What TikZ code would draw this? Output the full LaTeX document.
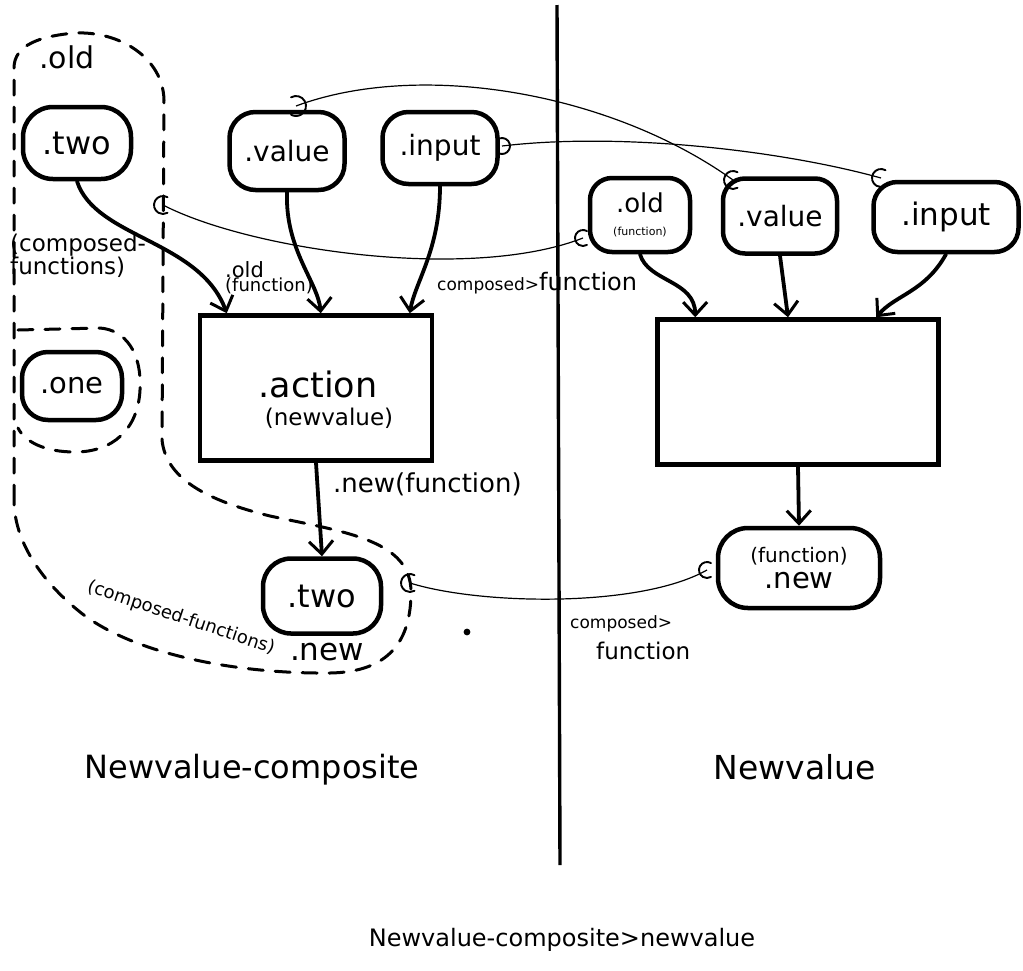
\documentclass[tikz,border=0pt]{standalone}
\usepackage{fontspec}
\setmainfont{DejaVu Sans}
\usetikzlibrary{arrows.meta}
\newcommand{\fs}[1]{\fontsize{#1}{#1}\selectfont}
\begin{document}
\begin{tikzpicture}[x=1pt,y=-1pt,
  blob/.style={draw, line width=4.5pt, rounded corners=26pt, inner sep=0pt, align=center, font=\fs{28}},
  box/.style={draw, line width=4.5pt, inner sep=0pt, align=center},
  flow/.style={line width=3.8pt, line cap=round, -{Straight Barb[length=13pt,width=24pt,line width=3pt]}},
  link/.style={line width=1.2pt},
  hookmark/.style={line width=1.9pt, line cap=round},
  region/.style={line width=3pt, dash pattern=on 15pt off 12pt, line cap=round},
  lbl/.style={inner sep=0pt, align=left}
]
\useasboundingbox (0,0) rectangle (1023,970);

% divider between the two diagrams
\draw[line width=3.4pt] (557,5) coordinate (dtop) -- (560,865) coordinate (dbot);

% ---------- left: Newvalue-composite ----------
\node[blob, minimum width=108pt, minimum height=72pt, font=\fs{32}, rounded corners=30pt] (twoA) at (77,143) {.two};
\node[blob, minimum width=115pt, minimum height=78pt] (valueA) at (287,151) {.value};
\node[blob, minimum width=115pt, minimum height=72pt] (inputA) at (440,148) {.input};
\node[blob, minimum width=100pt, minimum height=68pt, font=\fs{29}] (oneA) at (72,386) {.one};
\node[box, minimum width=232pt, minimum height=145pt] (action) at (316,388) {};
\node[lbl, font=\fs{35}] (actname) at (318,384) {.action};
\node[lbl, font=\fs{23}] (acttype) at (329,418) {(newvalue)};
\node[blob, minimum width=118pt, minimum height=75pt, rounded corners=28pt, font=\fs{32}] (twoB) at (322,596) {.two};

% dashed groupings
\draw[region] (14,500) -- (14,68) .. controls (14,45) and (40,36) .. (75,33)
  .. controls (120,31) and (163,58) .. (164,100) -- (162,440)
  .. controls (166,478) and (205,500) .. (270,516)
  .. controls (345,532) and (411,540) .. (411,592)
  .. controls (411,640) and (390,672) .. (330,673)
  .. controls (230,674) and (130,652) .. (80,612)
  .. controls (40,580) and (14,540) .. cycle;
\draw[region] (18,330) -- (100,328) .. controls (125,330) and (142,352) .. (140,390)
  .. controls (138,430) and (112,452) .. (75,452)
  .. controls (45,452) and (25,442) .. (18,428);

% thick connectors on the left
\draw[flow] (twoA.south) .. controls (95,238) and (200,240) .. ([xshift=29pt]action.north west);
\draw[flow] (valueA.south) .. controls (285,250) and (318,282) .. ([xshift=123pt]action.north west);
\draw[flow] (inputA.south) .. controls (440,250) and (415,282) .. ([xshift=212pt]action.north west);
\draw[flow] (action.south) -- (twoB.north);

% labels on the left
\node[lbl, font=\fs{30}] (lold) at (67,57) {.old};
\node[lbl, font=\fs{23}, anchor=west] (lcomp) at (10,256) {(composed-\\functions)};
\node[lbl, font=\fs{18}, anchor=west] (loldf) at (225,278) {\fs{21}.old\\[-4pt](function)};
\node[lbl, font=\fs{26}, anchor=west] (lnew) at (333,484) {.new(function)};
\node[lbl, font=\fs{18}, rotate=-18.5] (lcompB) at (181,618) {(composed-functions)};
\node[lbl, font=\fs{31}] (lnewB) at (327,652) {.new};
\fill (467,632) circle (3.4);

% ---------- right: Newvalue ----------
\node[blob, minimum width=100pt, minimum height=74pt, rounded corners=22pt] (oldR) at (640,215)
  {{\fs{26}.old}\\[-5pt]{\fs{11}(function)}};
\node[blob, minimum width=114pt, minimum height=75pt, rounded corners=22pt] (valueR) at (780,216) {.value};
\node[blob, minimum width=145pt, minimum height=70pt, rounded corners=24pt, font=\fs{31}] (inputR) at (946,217) {.input};
\node[box, minimum width=281pt, minimum height=145pt] (boxR) at (798,392) {};
\node[blob, minimum width=162pt, minimum height=80pt, rounded corners=30pt] (newR) at (799,568)
  {{\fs{20}(function)}\\[-2pt]{\fs{29}.new}};

\draw[flow] (oldR.south) .. controls (648,282) and (695,280) .. ([xshift=40pt]boxR.north west);
\draw[flow] (valueR.south) -- ([xshift=-10pt]boxR.north);
\draw[flow] (inputR.south) .. controls (925,292) and (895,295) .. ([xshift=221pt]boxR.north west);
\draw[flow] (boxR.south) -- (newR.north);

% ---------- thin composition links ----------
\coordinate (h1) at (296,106);
\coordinate (h2) at (733,180);
\coordinate (h3) at (502,146);
\coordinate (h4) at (881,178);
\coordinate (h5) at (163,205);
\coordinate (h6) at (583,238);
\coordinate (h7) at (410,583);
\coordinate (h8) at (707,570);

\draw[link] (h1) .. controls (420,60) and (610,92) .. (h2);
\draw[link] (h3) .. controls (620,132) and (780,150) .. (h4);
\draw[link] (h5) .. controls (250,250) and (470,282) .. (h6);
\draw[link] (h7) .. controls (480,605) and (640,608) .. (h8);

\draw[hookmark] (h1) ++(-120:10) arc (-120:120:10);
\draw[hookmark] (h2) ++(-60:9) arc (-60:-300:9);
\draw[hookmark] (h3) ++(-130:8) arc (-130:130:8);
\draw[hookmark] (h4) ++(-60:9) arc (-60:-300:9);
\draw[hookmark] (h5) ++(-60:9) arc (-60:-300:9);
\draw[hookmark] (h6) ++(-60:8) arc (-60:-300:8);
\draw[hookmark] (h7) ++(-60:9) arc (-60:-300:9);
\draw[hookmark] (h8) ++(-60:8) arc (-60:-300:8);

\node[lbl, anchor=west] (lcf) at (437,283) {\fs{17}composed>\fs{24}function};
\node[lbl, font=\fs{17}, anchor=west] (lcB1) at (570,624) {composed>};
\node[lbl, font=\fs{23}, anchor=west] (lcB2) at (596,651) {function};

% ---------- titles ----------
\node[lbl, font=\fs{32}] (tleft) at (252,770) {Newvalue-composite};
\node[lbl, font=\fs{33}] (tright) at (795,767) {Newvalue};
\node[lbl, font=\fs{24}] (tall) at (562,940) {Newvalue-composite>newvalue};
\end{tikzpicture}
\end{document}
